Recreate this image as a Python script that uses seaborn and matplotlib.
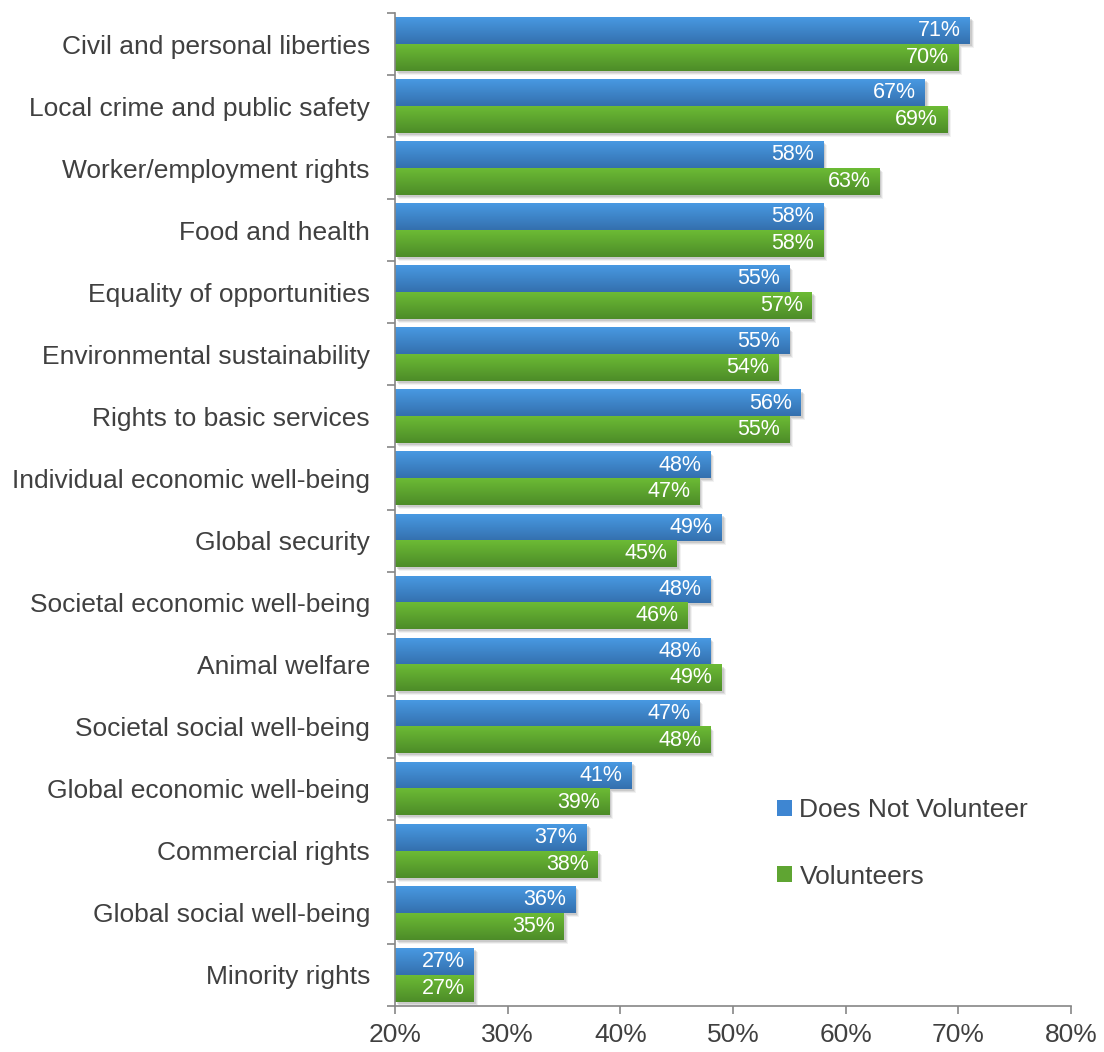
import matplotlib
matplotlib.use("Agg")
import matplotlib.pyplot as plt
import seaborn as sns
import pandas as pd
import numpy as np
from matplotlib.ticker import FixedLocator, PercentFormatter
from matplotlib.colors import LinearSegmentedColormap
from matplotlib.patches import Rectangle
from matplotlib.transforms import offset_copy

categories = [
    "Civil and personal liberties",
    "Local crime and public safety",
    "Worker/employment rights",
    "Food and health",
    "Equality of opportunities",
    "Environmental sustainability",
    "Rights to basic services",
    "Individual economic well-being",
    "Global security",
    "Societal economic well-being",
    "Animal welfare",
    "Societal social well-being",
    "Global economic well-being",
    "Commercial rights",
    "Global social well-being",
    "Minority rights",
]
does_not_volunteer = [71, 67, 58, 58, 55, 55, 56, 48, 49, 48, 48, 47, 41, 37, 36, 27]
volunteers = [70, 69, 63, 58, 57, 54, 55, 47, 45, 46, 49, 48, 39, 38, 35, 27]
series_names = ["Does Not Volunteer", "Volunteers"]
x_ticks = [20, 30, 40, 50, 60, 70, 80]

df = pd.DataFrame({
    "category": categories * 2,
    "value": does_not_volunteer + volunteers,
    "series": [series_names[0]] * len(categories) + [series_names[1]] * len(categories),
})

sns.set_theme(style="white")
plt.rcParams["font.family"] = ["Liberation Sans", "DejaVu Sans"]

fig = plt.figure(figsize=(11.04, 10.52), dpi=100)
ax = fig.add_axes([395 / 1104, 46 / 1052, 676 / 1104, (1039 - 46) / 1052])

palette = {series_names[0]: "#3E86D2", series_names[1]: "#5FA532"}
gradients = {
    series_names[0]: ("#4899E2", "#3470AE"),
    series_names[1]: ("#6CBB35", "#4D8C28"),
}
sns.barplot(data=df, y="category", x="value", hue="series", order=categories,
            hue_order=series_names, palette=palette, width=0.86, orient="h",
            saturation=1, ax=ax, legend=True, linewidth=0)

XMIN, XMAX = 20, 80
ax.set_xlim(XMIN, XMAX)
ax.set_ylim(len(categories) - 0.5, -0.5)

# gradient fill + soft shadow for each bar
bar_patches = [p for p in ax.patches if p.get_height() > 0 and p.get_width() > 0]
n = len(categories)
for i, p in enumerate(bar_patches):
    name = series_names[0] if i < n else series_names[1]
    top_c, bot_c = gradients[name]
    cmap = LinearSegmentedColormap.from_list(name, [top_c, bot_c])
    x0, y0, w, h = p.get_x(), p.get_y(), p.get_width(), p.get_height()
    xs = max(x0, XMIN)
    for k, (dx, a) in enumerate([(4, 0.10), (3, 0.16), (2, 0.22)]):
        sh = Rectangle((xs, y0), x0 + w - xs, h, facecolor="#808080", alpha=a, linewidth=0,
                       transform=offset_copy(ax.transData, fig=fig, x=dx, y=-dx, units="dots"),
                       zorder=p.get_zorder() - 0.5)
        ax.add_patch(sh)
    im = ax.imshow(np.linspace(0, 1, 64).reshape(-1, 1), cmap=cmap, aspect="auto",
                   extent=(xs, x0 + w, y0 + h, y0), origin="upper",
                   zorder=p.get_zorder() + 0.1, interpolation="bilinear")
    ax.text(x0 + w - 0.8, y0 + h / 2, f"{w:.0f}%", ha="right", va="center",
            color="white", fontsize=15.5, zorder=5)

ax.set_xlim(XMIN, XMAX)
ax.set_ylim(len(categories) - 0.5, -0.5)
ax.set_aspect("auto")
ax.xaxis.set_major_locator(FixedLocator(x_ticks))
ax.xaxis.set_major_formatter(PercentFormatter(decimals=0))
ax.set_xlabel("")
ax.set_ylabel("")

ax.yaxis.set_minor_locator(FixedLocator(np.arange(-0.5, len(categories), 1.0)))
ax.tick_params(axis="y", which="major", length=0, pad=18, labelsize=19, labelcolor="#404040")
ax.tick_params(axis="y", which="minor", length=6, width=1.2, color="#868686", left=True)
ax.tick_params(axis="x", which="major", length=6, width=1.2, color="#868686", bottom=True,
               labelsize=19, labelcolor="#404040", pad=6)

for s in ["top", "right"]:
    ax.spines[s].set_visible(False)
for s in ["left", "bottom"]:
    ax.spines[s].set_color("#868686")
    ax.spines[s].set_linewidth(1.2)
    ax.spines[s].set_zorder(10)

leg = ax.legend(loc="upper left", bbox_to_anchor=(0.53, 0.233), frameon=False,
                fontsize=19, handlelength=0.55, handleheight=0.55, handletextpad=0.3,
                labelspacing=1.6)
for t in leg.get_texts():
    t.set_color("#404040")

fig.savefig("out.png", dpi=100)
